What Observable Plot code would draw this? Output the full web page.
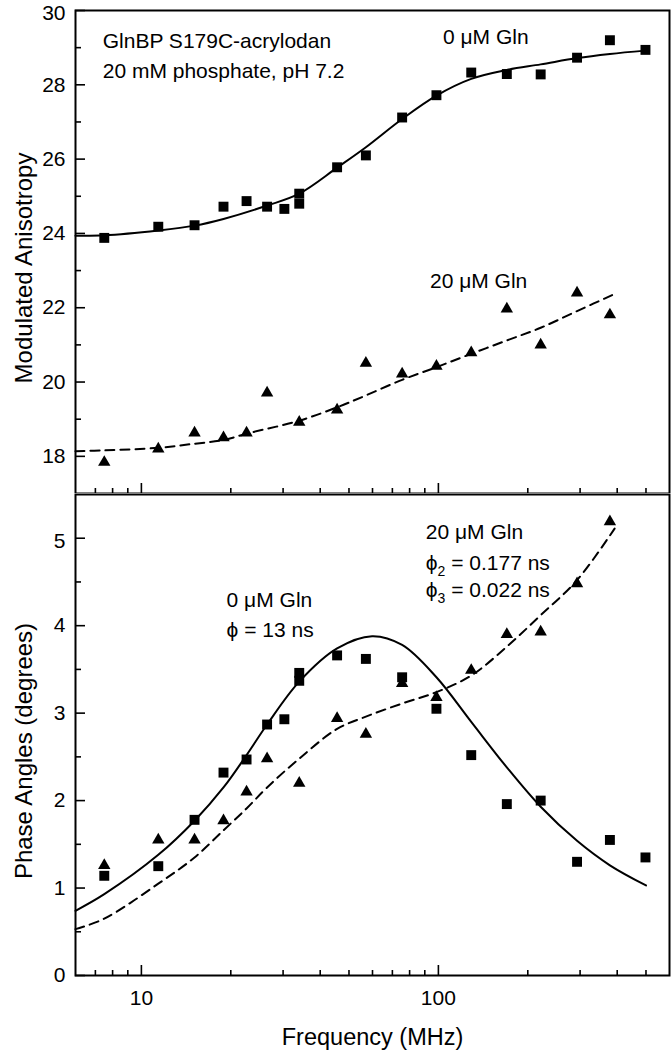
<!DOCTYPE html>
<html>
<head>
<meta charset="utf-8">
<script src="https://cdn.jsdelivr.net/npm/d3@7"></script>
<script src="https://cdn.jsdelivr.net/npm/@observablehq/plot@0.6"></script>
<style>
  html, body { margin: 0; padding: 0; background: #fff; }
  #wrap { position: relative; width: 671px; height: 1050px; overflow: hidden; background: #fff; }
  #wrap svg { position: absolute; left: 0; display: block; }
</style>
</head>
<body>
<div id="wrap"></div>
<script>
// ---------------- data ----------------
// measured points, 0 µM Gln (squares)
const freqGln0 = [7.5, 11.4, 15.1, 18.9, 22.6, 26.5, 30.3, 34.0, 34.0, 45.6, 57.0, 75.5, 98.5, 129, 170, 221, 293, 378, 498];
const anisoGln0 = [23.88, 24.18, 24.22, 24.72, 24.87, 24.72, 24.66, 25.07, 24.80, 25.78, 26.10, 27.12, 27.72, 28.33, 28.29, 28.28, 28.73, 29.20, 28.94];
const phaseGln0 = [1.14, 1.25, 1.78, 2.32, 2.47, 2.87, 2.93, 3.46, 3.37, 3.66, 3.62, 3.41, 3.05, 2.52, 1.96, 2.00, 1.30, 1.55, 1.35];

// measured points, 20 µM Gln (triangles)
const freqGln20 = [7.5, 11.4, 15.1, 18.9, 22.6, 26.5, 34.0, 45.6, 57.0, 75.5, 98.5, 129, 170, 221, 293, 378];
const anisoGln20 = [17.84, 18.20, 18.63, 18.50, 18.63, 19.71, 18.92, 19.25, 20.51, 20.22, 20.43, 20.79, 21.97, 21.00, 22.40, 21.81];
const phaseGln20 = [1.26, 1.55, 1.55, 1.77, 2.10, 2.48, 2.20, 2.94, 2.76, 3.34, 3.18, 3.49, 3.90, 3.93, 4.48, 5.19];

// fitted curves
const fitAniso0F = [6, 7.5, 11.4, 15.1, 18.9, 26.5, 34, 45.6, 57, 75.5, 98.5, 129, 170, 221, 293, 378, 498];
const fitAniso0  = [23.94, 23.95, 24.08, 24.21, 24.39, 24.75, 25.07, 25.77, 26.32, 27.08, 27.71, 28.16, 28.40, 28.55, 28.72, 28.83, 28.92];
const fitAniso20F = [6, 7.5, 11.4, 15.1, 18.9, 22.6, 34, 45.6, 57, 75.5, 98.5, 129, 170, 221, 293, 397];
const fitAniso20  = [18.14, 18.16, 18.23, 18.34, 18.44, 18.61, 18.96, 19.32, 19.64, 20.06, 20.40, 20.76, 21.12, 21.46, 21.91, 22.39];
const fitPhase0F = [6, 7.5, 11.4, 15.1, 18.9, 22.6, 26.5, 34, 45.6, 59.8, 75.5, 98.5, 129, 170, 221, 293, 378, 500];
const fitPhase0  = [0.74, 0.93, 1.38, 1.77, 2.15, 2.52, 2.87, 3.36, 3.74, 3.88, 3.78, 3.41, 2.90, 2.38, 1.93, 1.54, 1.26, 1.03];
const fitPhase20F = [6, 7.5, 11.4, 15.1, 18.9, 22.6, 26.5, 34, 45.6, 57, 75.5, 98.5, 129, 170, 221, 293, 392];
const fitPhase20  = [0.53, 0.65, 1.05, 1.35, 1.66, 1.91, 2.15, 2.48, 2.82, 2.96, 3.11, 3.24, 3.43, 3.76, 4.12, 4.52, 5.11];

// ticks
const xMajor = [10, 100];
const xMinor = [7, 8, 9, 20, 30, 40, 50, 60, 70, 80, 90, 200, 300, 400, 500];
const xLabels = [10, 100];
const anisoMajor = [18, 20, 22, 24, 26, 28, 30];
const anisoMinor = [19, 21, 23, 25, 27, 29];
const phaseMajor = [0, 1, 2, 3, 4, 5];
const phaseMinor = [0.5, 1.5, 2.5, 3.5, 4.5];

// text
const titleTop = "Modulated Anisotropy";
const titleBottom = "Phase Angles (degrees)";
const titleX = "Frequency (MHz)";
const notesTop = [
  {x: 7.41, y: 28.98, text: "GlnBP S179C-acrylodan"},
  {x: 7.41, y: 28.18, text: "20 mM phosphate, pH 7.2"},
  {x: 103.6, y: 29.11, text: "0 μM Gln"},
  {x: 93.7, y: 22.52, text: "20 μM Gln"}
];
const notesBottom = [
  {x: 90.7, y: 4.99, text: "20 μM Gln"},
  {x: 90.7, y: 4.634, text: "ϕ2 = 0.177 ns"},
  {x: 90.7, y: 4.325, text: "ϕ3 = 0.022 ns"},
  {x: 19.36, y: 4.21, text: "0 μM Gln"},
  {x: 19.36, y: 3.867, text: "ϕ = 13 ns"}
];

// ---------------- helpers ----------------
const FONT = "'Liberation Sans', Arial, Helvetica, sans-serif";
const zip = (xs, ys) => xs.map((x, i) => ({x, y: ys[i]}));
const fmt = d => String(d);

function tickMarks(yMajor, yMinor) {
  const top = yMajor[yMajor.length - 1];
  return [
    Plot.axisY(yMajor, {anchor: "left", tickSize: 10, dx: 10, fill: "none", strokeWidth: 1.6, label: null}),
    Plot.axisY(yMinor, {anchor: "left", tickSize: 6, dx: 6, fill: "none", strokeWidth: 1.6, label: null}),
    Plot.axisX(xMajor, {anchor: "bottom", tickSize: 10, dy: -10, fill: "none", strokeWidth: 1.6, label: null}),
    Plot.axisX(xMinor, {anchor: "bottom", tickSize: 5, dy: -5, fill: "none", strokeWidth: 1.6, label: null}),
    Plot.axisY(yMajor.filter(d => d !== top), {anchor: "left", tickSize: 0, tickPadding: 10, label: null, fontSize: 21, tickFormat: fmt}),
    Plot.axisY([top], {anchor: "left", tickSize: 0, tickPadding: 10, label: null, fontSize: 21, tickFormat: fmt, dy: 3})
  ];
}

function seriesMarks(fit0F, fit0, fit20F, fit20, f0, v0, f20, v20) {
  return [
    Plot.line(zip(fit0F, fit0), {x: "x", y: "y", stroke: "black", strokeWidth: 2, curve: "catmull-rom"}),
    Plot.line(zip(fit20F, fit20), {x: "x", y: "y", stroke: "black", strokeWidth: 2, strokeDasharray: "9,6", curve: "catmull-rom"}),
    Plot.dot(zip(f0, v0), {x: "x", y: "y", symbol: "square", r: 5.6, fill: "black", stroke: null}),
    Plot.dot(zip(f20, v20), {x: "x", y: "y", symbol: "triangle", r: 4.6, fill: "black", stroke: null})
  ];
}

const common = {
  width: 671,
  marginLeft: 75,
  marginRight: 2,
  style: {fontFamily: FONT, fontSize: "21px", color: "black", background: "white", overflow: "visible"},
  x: {type: "log", domain: [6, 600]}
};

// ---------------- top panel ----------------
const topPlot = Plot.plot({
  ...common,
  height: 494,
  marginTop: 10,
  marginBottom: 1,
  y: {domain: [17, 30]},
  marks: [
    ...tickMarks(anisoMajor, anisoMinor),
    ...seriesMarks(fitAniso0F, fitAniso0, fitAniso20F, fitAniso20, freqGln0, anisoGln0, freqGln20, anisoGln20),
    Plot.text(notesTop, {x: "x", y: "y", text: "text", textAnchor: "start", lineAnchor: "bottom", fontSize: 21}),
    Plot.text([titleTop], {frameAnchor: "left", textAnchor: "middle", dx: -44, dy: 16, rotate: -90, lineAnchor: "bottom", fontSize: 24}),
    Plot.frame({stroke: "black", strokeWidth: 2})
  ]
});

// ---------------- bottom panel ----------------
const bottomPlot = Plot.plot({
  ...common,
  height: 557,
  marginTop: 1,
  marginBottom: 75,
  y: {domain: [0, 5.5]},
  marks: [
    ...tickMarks(phaseMajor, phaseMinor),
    Plot.axisX(xLabels, {anchor: "bottom", tickSize: 0, tickPadding: 15, label: null, fontSize: 21, tickFormat: fmt}),
    ...seriesMarks(fitPhase0F, fitPhase0, fitPhase20F, fitPhase20, freqGln0, phaseGln0, freqGln20, phaseGln20),
    Plot.text(notesBottom, {x: "x", y: "y", text: "text", textAnchor: "start", lineAnchor: "bottom", fontSize: 21}),
    Plot.text([titleBottom], {frameAnchor: "left", textAnchor: "middle", dx: -44, dy: 16, rotate: -90, lineAnchor: "bottom", fontSize: 24}),
    Plot.text([titleX], {frameAnchor: "bottom", textAnchor: "middle", dy: 69, lineAnchor: "bottom", fontSize: 23.5}),
    Plot.frame({stroke: "black", strokeWidth: 2})
  ]
});

// subscripts for ϕ2 / ϕ3
const NS = "http://www.w3.org/2000/svg";
for (const t of bottomPlot.querySelectorAll("text")) {
  const m = (t.textContent || "").match(/^ϕ([23])(.*)$/);
  if (m && t.children.length === 0) {
    t.textContent = "ϕ";
    const sub = document.createElementNS(NS, "tspan");
    sub.setAttribute("font-size", "14");
    sub.setAttribute("dy", "6");
    sub.textContent = m[1];
    const rest = document.createElementNS(NS, "tspan");
    rest.setAttribute("dy", "-6");
    rest.textContent = m[2];
    t.append(sub, rest);
  }
}

const wrap = document.getElementById("wrap");
topPlot.style.top = "0px";
bottomPlot.style.top = "493px";
wrap.append(topPlot, bottomPlot);
</script>
</body>
</html>
